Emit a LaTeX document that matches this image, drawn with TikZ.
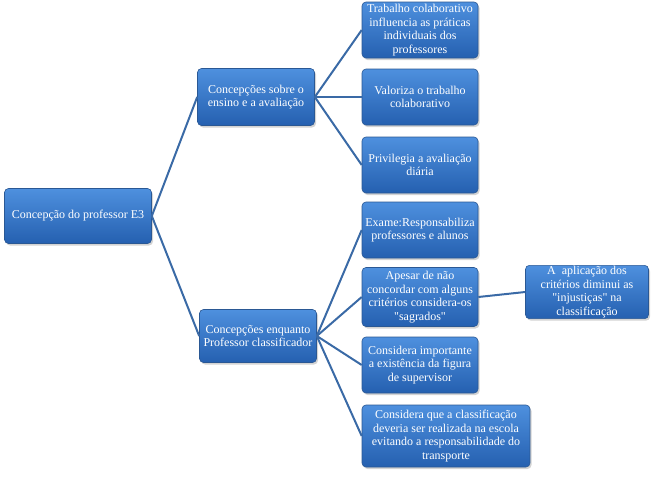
\documentclass[tikz,border=0pt]{standalone}
\usepackage{fontspec}
\setmainfont{Liberation Serif}[Ligatures=TeXOff]
\usetikzlibrary{shadows}
\definecolor{boxtop}{HTML}{4E90DE}
\definecolor{boxbot}{HTML}{2560B0}
\definecolor{boxedge}{HTML}{2A5894}
\definecolor{linkc}{HTML}{3A6AA6}
\begin{document}
\begin{tikzpicture}[x=1pt,y=-1pt,
  box/.style={draw=boxedge, line width=0.6pt, rounded corners=4pt,
    top color=boxtop, bottom color=boxbot, text=white, align=center,
    font=\fontsize{12}{13.5}\selectfont, inner sep=1pt,
    drop shadow={opacity=0.35, shadow xshift=1.5pt, shadow yshift=-2pt}},
  lv/.style={box, minimum width=116, minimum height=56},
  link/.style={draw=linkc, line width=2pt}]
\useasboundingbox (0,0) rectangle (651,485);
\node[box, minimum width=147, minimum height=55] (root) at (78,216) {Concepção do professor E3};
\node[box, minimum width=117, minimum height=57] (c1) at (256,97) {Concepções sobre o\\ensino e a avaliação};
\node[box, minimum width=117, minimum height=53] (c2) at (258,336) {Concepções enquanto\\Professor classificador};
\node[lv] (a1) at (420,30) {Trabalho colaborativo\\influencia as práticas\\individuais dos\\professores};
\node[lv] (a2) at (420,97) {Valoriza o trabalho\\colaborativo};
\node[lv] (a3) at (420,165) {Privilegia a avaliação\\diária};
\node[lv] (b1) at (420,230) {Exame:Responsabiliza\\professores e alunos};
\node[lv, minimum height=59] (b2) at (420,297) {Apesar de não\\concordar com alguns\\critérios considera-os\\"sagrados"};
\node[lv] (b3) at (420,365) {Considera importante\\a existência da figura\\de supervisor};
\node[box, minimum width=168, minimum height=62] (b4) at (446,436) {Considera que a classificação\\deveria ser realizada na escola\\evitando a responsabilidade do\\transporte};
\node[box, minimum width=123, minimum height=50] (d1) at (587,292) {A \ aplicação dos\\critérios diminui as\\"injustiças" na\\classificação};
\draw[link] (root.east) -- (c1.west);
\draw[link] (root.east) -- (c2.west);
\draw[link] (c1.east) -- (a1.west);
\draw[link] (c1.east) -- (a2.west);
\draw[link] (c1.east) -- (a3.west);
\draw[link] (c2.east) -- (b1.west);
\draw[link] (c2.east) -- (b2.west);
\draw[link] (c2.east) -- (b3.west);
\draw[link] (c2.east) -- (b4.west);
\draw[link] (b2.east) -- (d1.west);
\end{tikzpicture}
\end{document}
